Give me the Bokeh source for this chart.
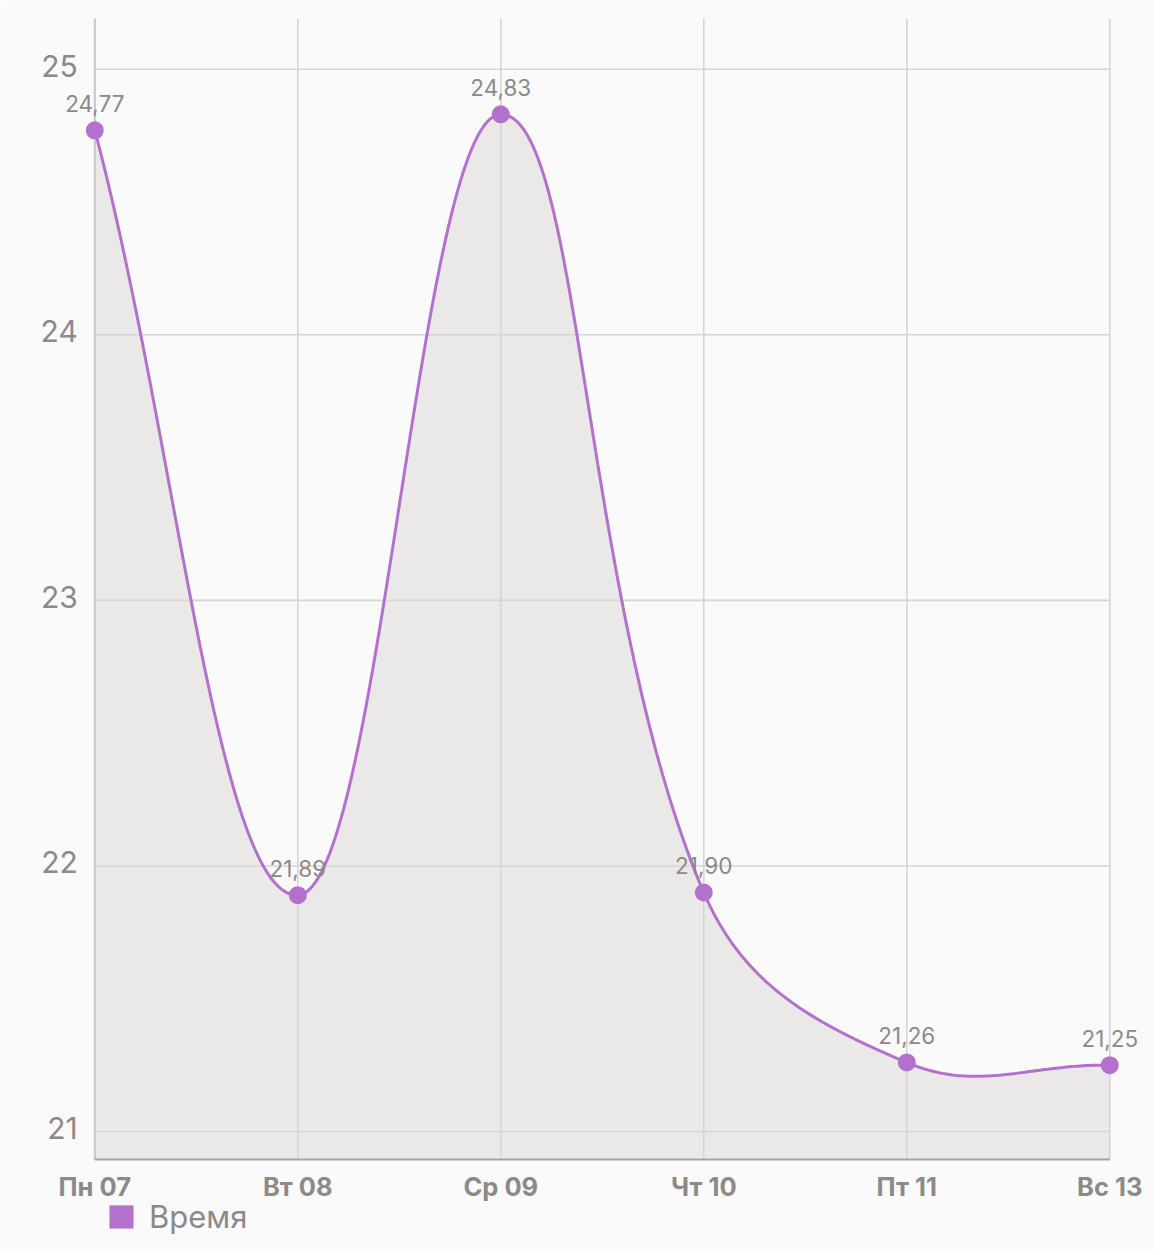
import numpy as np
from bokeh.plotting import figure
from bokeh.models import Range1d, Legend, LegendItem, ColumnDataSource
from bokeh.core.properties import value
from bokeh.embed import file_html
from bokeh.resources import INLINE

# ---- data ----
categories = ["Пн 07", "Вт 08", "Ср 09", "Чт 10", "Пт 11", "Вс 13"]
series_values = [24.77, 21.89, 24.83, 21.90, 21.26, 21.25]
y_ticks = [21, 22, 23, 24, 25]
y_tick_labels = ["21", "22", "23", "24", "25"]
series_name = "Время"

# ---- styles ----
PURPLE = "#b370cd"
GREY_TEXT = "#8e8989"
GRID = "#d5d5d5"
AXIS_DARK = "#a3a3a3"
FILL = "#ebe9e8"
BG = "#fafafa"
FONT = "Inter"

Y_BOTTOM = 20.8946
Y_TOP = 25.19

# ---- smooth curve (Chart.js-like spline with tension 0.4, in pixel-like space) ----
SX, SY, T = 203.0, 265.6, 0.4
xs = np.arange(len(series_values), dtype=float)
pts = np.column_stack([xs * SX, np.array(series_values) * SY])
n = len(pts)
cp_prev = np.zeros_like(pts)
cp_next = np.zeros_like(pts)
for i in range(n):
    prev = pts[i - 1] if i > 0 else pts[i]
    cur = pts[i]
    nxt = pts[i + 1] if i < n - 1 else pts[i]
    d01 = np.hypot(*(cur - prev))
    d12 = np.hypot(*(nxt - cur))
    tot = d01 + d12
    s01 = d01 / tot if tot else 0.0
    s12 = d12 / tot if tot else 0.0
    cp_prev[i] = cur - T * s01 * (nxt - prev)
    cp_next[i] = cur + T * s12 * (nxt - prev)

cx, cy = [], []
tt = np.linspace(0, 1, 80)
for i in range(n - 1):
    p0, p1, p2, p3 = pts[i], cp_next[i], cp_prev[i + 1], pts[i + 1]
    b = ((1 - tt) ** 3)[:, None] * p0 + (3 * (1 - tt) ** 2 * tt)[:, None] * p1 \
        + (3 * (1 - tt) * tt ** 2)[:, None] * p2 + (tt ** 3)[:, None] * p3
    cx.extend(b[:, 0] / SX)
    cy.extend(b[:, 1] / SY)

p = figure(
    frame_width=1154, frame_height=1250,
    x_range=Range1d(-0.4645, 5.2202), y_range=Range1d(20.5520, 25.2587),
    x_axis_location=None, y_axis_location=None,
    output_backend="svg", toolbar_location=None,
    min_border_left=0, min_border_top=0, min_border_right=0, min_border_bottom=0,
    background_fill_color=BG, border_fill_color=BG, outline_line_color=None,
)
p.xgrid.visible = False
p.ygrid.visible = False

# area fill
p.varea(x=cx, y1=[Y_BOTTOM] * len(cx), y2=cy, fill_color=FILL)

# grid lines
p.segment(x0=[0] * len(y_ticks), x1=[len(categories) - 1] * len(y_ticks), y0=y_ticks, y1=y_ticks,
          line_color=GRID, line_width=1.6)
p.segment(x0=list(range(len(categories))), x1=list(range(len(categories))),
          y0=[Y_BOTTOM] * len(categories), y1=[Y_TOP] * len(categories),
          line_color=GRID, line_width=1.6)
# axis lines
p.segment(x0=[0], x1=[0], y0=[Y_BOTTOM], y1=[Y_TOP], line_color="#c8c8c8", line_width=2)
p.segment(x0=[0], x1=[len(categories) - 1], y0=[Y_BOTTOM], y1=[Y_BOTTOM], line_color=AXIS_DARK, line_width=2)

# curve
p.line(cx, cy, line_color=PURPLE, line_width=3)

src = ColumnDataSource(dict(
    x=list(range(len(categories))),
    y=series_values,
    lab=[f"{v:.2f}".replace(".", ",") for v in series_values],
))
p.scatter("x", "y", source=src, size=18, fill_color=PURPLE, line_color=None)
p.text("x", "y", text="lab", source=src, text_align="center", text_baseline="alphabetic",
       y_offset=-27, text_font=value(FONT), text_font_size="22.5px", text_color=GREY_TEXT)

# category labels (x axis)
cat_src = ColumnDataSource(dict(x=list(range(len(categories))), y=[Y_BOTTOM] * len(categories), t=categories))
p.text("x", "y", text="t", source=cat_src, text_align="center", text_baseline="middle",
       y_offset=26.5, text_font=value(FONT), text_font_style="bold", text_font_size="25.5px",
       text_color=GREY_TEXT)

# value labels (y axis)
ytick_src = ColumnDataSource(dict(x=[0] * len(y_ticks), y=y_ticks, t=y_tick_labels))
p.text("x", "y", text="t", source=ytick_src, text_align="right", text_baseline="middle",
       x_offset=-17, y_offset=-3.5, text_font=value(FONT), text_font_size="30px",
       text_color=GREY_TEXT)

# legend (zero-size swatch renderer so that the legend has a glyph to draw)
legend_r = p.quad(left=[0], right=[0], bottom=[Y_BOTTOM], top=[Y_BOTTOM],
                  fill_color=PURPLE, line_color=None)
legend = Legend(
    items=[LegendItem(label=series_name, renderers=[legend_r])],
    orientation="horizontal", location=(106, 15),
    margin=0, padding=0, spacing=0,
    border_line_color=None, background_fill_alpha=0,
    glyph_width=30, glyph_height=29, label_height=29, label_standoff=13,
    label_text_font=FONT, label_text_font_size="31px", label_text_color=GREY_TEXT,
)
p.add_layout(legend, "center")

open("out.html", "w").write(file_html(p, INLINE))
